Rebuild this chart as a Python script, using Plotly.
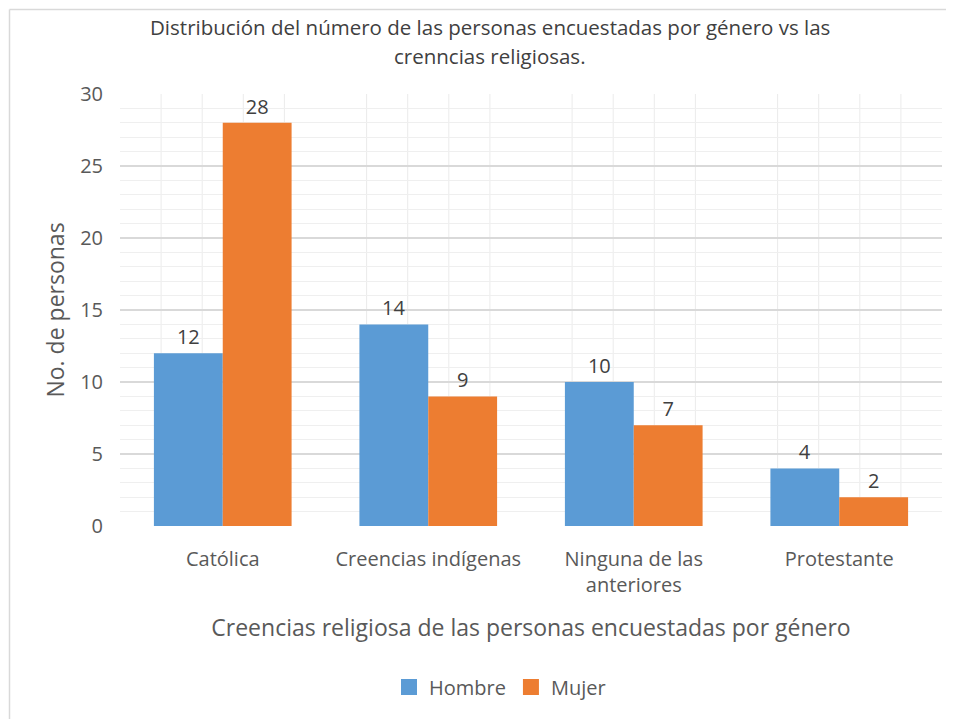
import plotly.graph_objects as go

categories = ["Católica", "Creencias indígenas", "Ninguna de las<br>anteriores", "Protestante"]
hombre = [12, 14, 10, 4]
mujer = [28, 9, 7, 2]
y_ticks = [0, 5, 10, 15, 20, 25, 30]

BLUE = "#5B9BD5"
ORANGE = "#ED7D31"
TXT = "#595959"
FONT = "Open Sans"

# figure geometry (page body adds an 8px offset)
W, H = 946, 711
L, R, T, B = 112, 12, 86, 193
PW, PH = W - L - R, H - T - B


def px(fx):
    return (fx - L) / PW


def py(fy):
    return (H - B - fy) / PH


xs = list(range(len(categories)))

fig = go.Figure()
fig.add_trace(go.Bar(x=xs, y=hombre, name="Hombre", marker=dict(color=BLUE, line=dict(width=0)),
                     text=[str(v) for v in hombre], textposition="outside", showlegend=False,
                     textfont=dict(size=20, color="#404040", family=FONT), cliponaxis=False))
fig.add_trace(go.Bar(x=xs, y=mujer, name="Mujer", marker=dict(color=ORANGE, line=dict(width=0)),
                     text=[str(v) for v in mujer], textposition="outside", showlegend=False,
                     textfont=dict(size=20, color="#404040", family=FONT), cliponaxis=False))
# legend entries with larger square swatches
for nm, col in (("Hombre", BLUE), ("Mujer", ORANGE)):
    fig.add_trace(go.Scatter(x=[None], y=[None], mode="markers", name=nm,
                             marker=dict(symbol="square", size=19, color=col, line=dict(width=0)),
                             hoverinfo="skip"))

shapes = []
# vertical light gridlines inside each category band
for k in xs:
    for j in range(1, 5):
        xv = k - 0.5 + j / 5
        shapes.append(dict(type="line", xref="x", yref="y", x0=xv, x1=xv, y0=0, y1=30,
                           line=dict(color="#EBEBEB", width=1), layer="below"))
# chart frame (top and left edges visible)
shapes.append(dict(type="line", xref="paper", yref="paper", x0=px(1.5), x1=px(W), y0=py(1.5), y1=py(1.5),
                   line=dict(color="#D9D9D9", width=1.5)))
shapes.append(dict(type="line", xref="paper", yref="paper", x0=px(1.5), x1=px(1.5), y0=py(1.5), y1=py(H),
                   line=dict(color="#D9D9D9", width=1.5)))

fig.update_layout(
    width=W, height=H,
    margin=dict(l=L, r=R, t=T, b=B),
    paper_bgcolor="white", plot_bgcolor="white",
    font=dict(family=FONT, color=TXT, size=20),
    barmode="group", bargap=0.33, bargroupgap=0,
    showlegend=True,
    legend=dict(orientation="h", x=px(492), xanchor="center", y=py(679), yanchor="middle",
                font=dict(size=20, color=TXT, family=FONT), itemwidth=30, traceorder="normal",
                tracegroupgap=0),
    shapes=shapes,
    annotations=[
        dict(text="Distribución del número de las personas encuestadas por género vs las",
             xref="paper", yref="paper", x=px(482), y=py(19),
             showarrow=False, font=dict(size=20.5, color="#404040", family=FONT), xanchor="center", yanchor="middle"),
        dict(text="crenncias religiosas.",
             xref="paper", yref="paper", x=px(482), y=py(48),
             showarrow=False, font=dict(size=20.5, color="#404040", family=FONT), xanchor="center", yanchor="middle"),
    ],
)

fig.update_xaxes(
    range=[-0.5, 3.5], tickmode="array", tickvals=xs, ticktext=categories,
    showgrid=False, zeroline=False, showline=False,
    ticks="outside", ticklen=15, tickcolor="rgba(0,0,0,0)",
    tickfont=dict(size=20, color=TXT, family=FONT),
    title=dict(text="Creencias religiosa de las personas encuestadas por género",
               font=dict(size=23, color=TXT, family=FONT), standoff=22),
)
fig.update_yaxes(
    range=[0, 30], tickmode="array", tickvals=y_ticks,
    showgrid=True, gridcolor="#D9D9D9", gridwidth=1.5,
    zeroline=False, showline=False,
    ticks="outside", ticklen=12, tickcolor="rgba(0,0,0,0)",
    tickfont=dict(size=20, color=TXT, family=FONT),
    minor=dict(dtick=1, showgrid=True, gridcolor="#EFEFEF", gridwidth=1, ticks=""),
    title=dict(text="No. de personas", font=dict(size=23, color=TXT, family=FONT), standoff=9),
)

fig.write_html("out.html")
